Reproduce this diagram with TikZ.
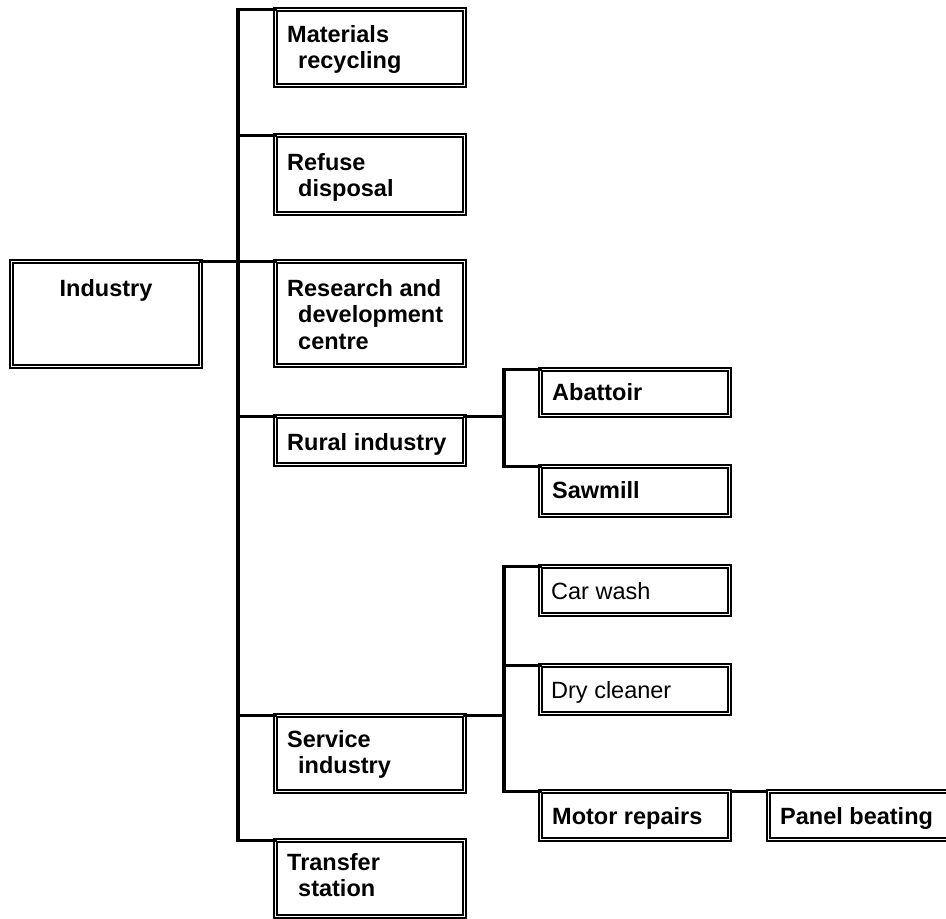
\documentclass[tikz,border=0pt]{standalone}
\usepackage{fontspec}
\setmainfont{Liberation Sans}
\tikzset{
  box/.style={draw, double, double distance=1.6pt, line width=1.6pt, inner sep=0pt, outer sep=0pt,
    minimum width=189.2pt, anchor=north west},
  lbl/.style={inner sep=0pt, anchor=base west, font=\fontsize{23.5}{26.5}\selectfont\bfseries},
  lblr/.style={inner sep=0pt, anchor=base west, font=\fontsize{23.5}{26.5}\selectfont},
  conn/.style={line width=3.8pt, line cap=rect, line join=miter},
  connthin/.style={line width=3pt},
}
\newcommand{\twol}[2]{\parbox[t]{185pt}{\raggedright #1\\\hspace*{11pt}#2}}
\begin{document}
\begin{tikzpicture}[x=1pt, y=-1pt]
\useasboundingbox (0,0) rectangle (946,919);
\coordinate (tx) at (238,0);
\coordinate (v2) at (504,0);
% boxes (outer edge + 2.4)
\node[box, minimum height=105.2pt] (ind) at (11.4,261.4) {};
\node[box, minimum height=76.2pt] (mat) at (275.4,9.4) {};
\node[box, minimum height=78.2pt] (ref) at (275.4,135.4) {};
\node[box, minimum height=104.2pt] (res) at (275.4,261.4) {};
\node[box, minimum height=48.2pt] (rur) at (275.4,416.4) {};
\node[box, minimum height=76.2pt] (ser) at (275.4,715.4) {};
\node[box, minimum height=76.2pt] (tra) at (275.4,840.4) {};
\node[box, minimum height=46.2pt] (aba) at (540.4,369.4) {};
\node[box, minimum height=49.2pt] (saw) at (540.4,466.4) {};
\node[box, minimum height=48.2pt] (car) at (540.4,566.4) {};
\node[box, minimum height=48.2pt] (dry) at (540.4,665.4) {};
\node[box, minimum height=48.2pt] (mot) at (540.4,791.4) {};
\node[box, minimum height=48.2pt] (pan) at (768.4,791.4) {};
% texts
\node[lbl, anchor=base] (indt) at (106,296) {Industry};
\node[lbl] (matt) at (287,42) {\twol{Materials}{recycling}};
\node[lbl] (reft) at (287,170) {\twol{Refuse}{disposal}};
\node[lbl] (rest) at (287,296) {\parbox[t]{185pt}{\raggedright Research and\\\hspace*{11pt}development\\\hspace*{11pt}centre}};
\node[lbl] (rurt) at (287,450) {Rural industry};
\node[lbl] (sert) at (287,747) {\twol{Service}{industry}};
\node[lbl] (trat) at (287,870) {\twol{Transfer}{station}};
\node[lbl] (abat) at (552,400) {Abattoir};
\node[lbl] (sawt) at (552,498) {Sawmill};
\node[lblr] (cart) at (551,599) {Car wash};
\node[lblr] (dryt) at (551,698) {Dry cleaner};
\node[lbl] (mott) at (552,824) {Motor repairs};
\node[lbl] (pant) at (780,824) {Panel beating};
% connectors
\draw[conn] (mat.north west) -| (tx |- tra.north west) -- (tra.north west);
\draw[conn] (tx |- ref.north west) -- (ref.north west);
\draw[conn] (ind.north east) -- (res.north west);
\draw[conn] (tx |- rur.north west) -- (rur.north west);
\draw[conn] (tx |- ser.north west) -- (ser.north west);
\draw[conn] (rur.north east) -- (v2 |- rur.north east);
\draw[conn] (aba.north west) -| (v2 |- saw.north west) -- (saw.north west);
\draw[conn] (ser.north east) -- (v2 |- ser.north east);
\draw[conn] (car.north west) -| (v2 |- mot.north west) -- (mot.north west);
\draw[conn] (v2 |- dry.north west) -- (dry.north west);
\draw[connthin] (mot.north east) -- (pan.north west);
\end{tikzpicture}
\end{document}
